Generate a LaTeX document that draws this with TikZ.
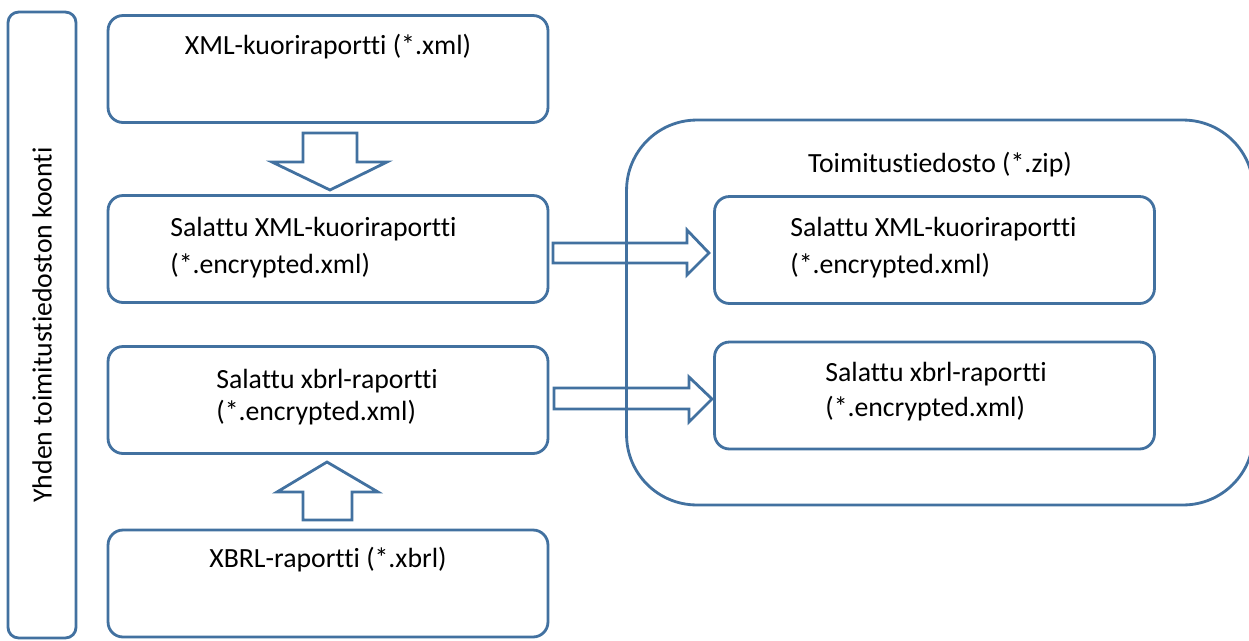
\documentclass[tikz,border=0pt]{standalone}
\usepackage{fontspec}
\setmainfont{Carlito}[Ligatures=NoCommon]
\usetikzlibrary{calc}
\definecolor{rand}{RGB}{66,113,160}

\begin{document}
\begin{tikzpicture}[x=0.02cm,y=-0.02cm,
    box/.style={draw=rand,line width=1.6pt,rounded corners=8.5pt,minimum width=8.8cm,minimum height=2.14cm,inner sep=0pt},
    txt/.style={font=\fontsize{15.8}{21}\selectfont,align=left,inner sep=0pt},
    pijl/.style={draw=rand,line width=1.6pt,line join=miter}]

        \useasboundingbox (0,0) rectangle (1249,640);

        % Zijbalk links
        \node[draw=rand,line width=1.6pt,rounded corners=6pt,minimum width=12.52cm,minimum height=1.36cm,rotate=90,txt] (koonti) at (42,325) {Yhden toimitustiedoston koonti};

        % Omhulsel van het zip-bestand
        \node[draw=rand,line width=1.6pt,rounded corners=40pt,minimum width=12.54cm,minimum height=7.7cm,inner sep=0pt] (zip) at (940,312.5) {};
        \node[txt] (ziptekst) at (940,165) {Toimitustiedosto (*.zip)};

        % Kaders links
        \node[box] (kuori) at (328,69) {};
        \node[box] (kuorienc) at (328,249) {};
        \node[box] (xbrlenc) at (328,400) {};
        \node[box] (xbrl) at (328,583.5) {};

        \node[txt] (kuoritekst) at (328,47) {XML-kuoriraportti (*.xml)};
        \node[txt,anchor=west] (kuorienctekst) at (170,247.5) {Salattu XML-kuoriraportti\\(*.encrypted.xml)};
        \node[txt,anchor=west,font=\fontsize{15.8}{18}\selectfont] (xbrlenctekst) at (216,397) {Salattu xbrl-raportti\\(*.encrypted.xml)};
        \node[txt] (xbrltekst) at (328,560) {XBRL-raportti (*.xbrl)};

        % Kaders in het zip-bestand
        \node[box] (zipkuori) at (934.5,250) {};
        \node[box] (zipxbrl) at (934.5,395.5) {};

        \node[txt,anchor=west] (zipkuoritekst) at (790,247.5) {Salattu XML-kuoriraportti\\(*.encrypted.xml)};
        \node[txt,anchor=west,font=\fontsize{15.8}{20}\selectfont] (zipxbrltekst) at (825,391.5) {Salattu xbrl-raportti\\(*.encrypted.xml)};

        % Holle pijlen
        \draw[pijl] (303,133) -- (357,133) -- (357,162) -- (387,162) -- (330,190) -- (272,162) -- (303,162) -- cycle;
        \draw[pijl] (303,520) -- (352,520) -- (352,492) -- (378,492) -- (327,462) -- (277,492) -- (303,492) -- cycle;
        \draw[pijl] (553,243) -- (687,243) -- (687,230) -- (709,253) -- (687,275) -- (687,263) -- (553,263) -- cycle;
        \draw[pijl] (554,388) -- (689,388) -- (689,377) -- (712,399) -- (689,422) -- (689,409) -- (554,409) -- cycle;
    \end{tikzpicture}
\end{document}
